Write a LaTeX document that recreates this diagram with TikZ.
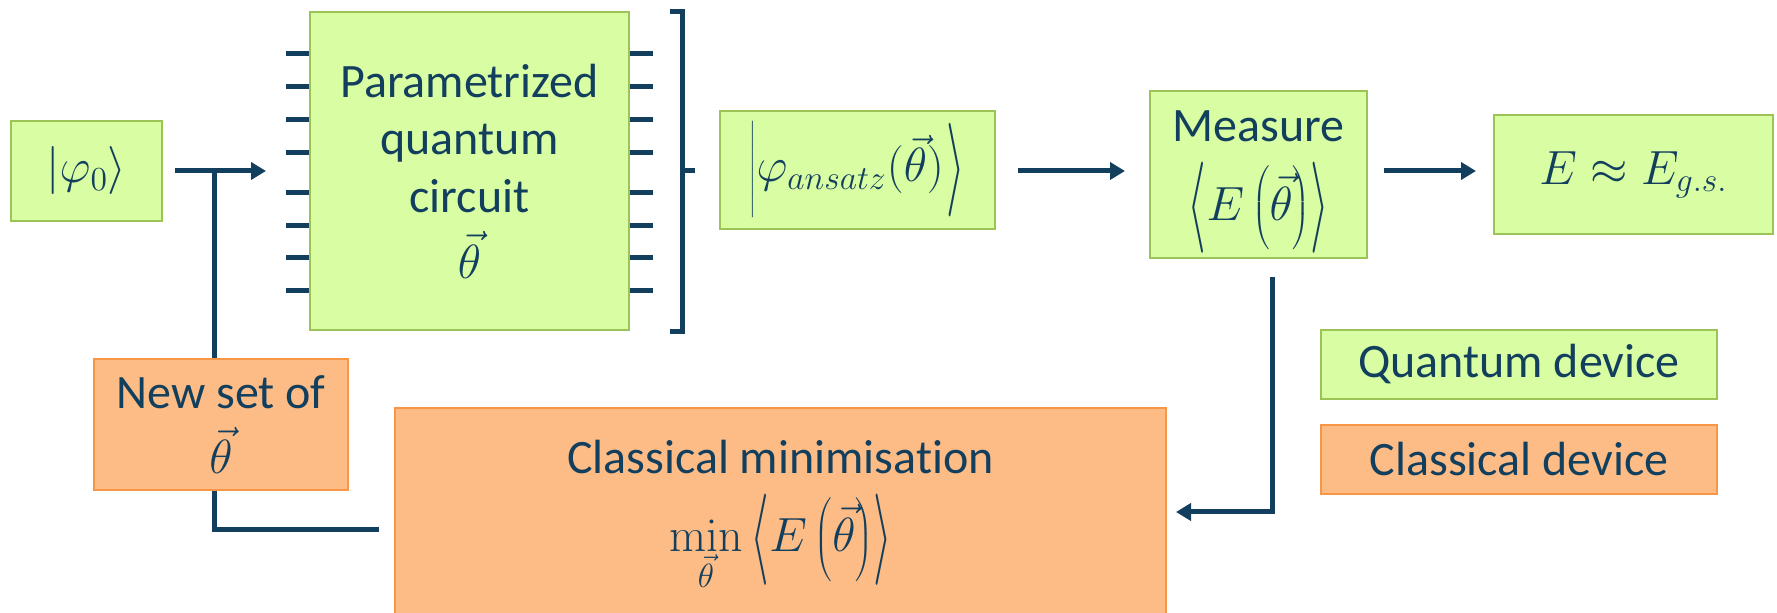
\RequirePackage{fix-cm}
\documentclass[tikz,border=0pt]{standalone}
\usepackage{graphicx}
\usepackage[no-math]{fontspec}
\setmainfont{Carlito}[Ligatures=NoCommon]
\usetikzlibrary{arrows.meta}
\definecolor{navy}{RGB}{19,63,94}
\definecolor{qfill}{RGB}{217,253,163}
\definecolor{qdraw}{RGB}{155,195,85}
\definecolor{cfill}{RGB}{253,188,133}
\definecolor{cdraw}{RGB}{247,150,70}
\newcommand\dstrut[1]{\vrule height\dimexpr 6pt+#1\relax depth\dimexpr #1-6pt\relax width 0pt}
\newcommand\tangl[1]{\mathopen{\vcenter{\hbox{\scalebox{1}[#1]{$\langle$}}}}}
\newcommand\tangr[1]{\mathclose{\vcenter{\hbox{\scalebox{1}[#1]{$\rangle$}}}}}
\begin{document}
\begin{tikzpicture}[x=0.5pt,y=-0.5pt,
  every node/.style={font=\fontsize{24}{28.8}\selectfont, text=navy, align=center, inner sep=0pt},
  qbox/.style={draw=qdraw, fill=qfill, line width=1pt, rectangle},
  cbox/.style={draw=cdraw, fill=cfill, line width=1pt, rectangle},
  conn/.style={draw=navy, line width=2.5pt},
  arr/.style={conn, -{Triangle[length=7.5pt,width=8.5pt]}},
  wire/.style={draw=navy, line width=2.5pt},
]
\useasboundingbox (0,0) rectangle (1777,613);
\clip (0,0) rectangle (1777,613);
\delimitershortfall=0pt

% nodes
\node[qbox, minimum width=75.5pt, minimum height=50pt] (phi0) at (86.5,171) {$|\varphi_0\rangle$};
\node[qbox, minimum width=159.5pt, minimum height=159pt] (pqc) at (469.5,171) {Parametrized\\quantum\\circuit\\[4pt]$\vec{\theta}$};
\node[qbox, minimum width=137.5pt, minimum height=59pt] (ans) at (857.5,170) {$\left|\dstrut{23.5pt}\varphi_{ansatz}(\vec{\theta})\right.\tangr{1.95}$};
\node[qbox, minimum width=108.5pt, minimum height=83.5pt] (meas) at (1258.5,174.5) {};
\node (meastext) at (1258.5,182) {Measure\\[9.5pt]$\tangl{1.9}E\left(\dstrut{19.5pt}\vec{\theta}\right)\tangr{1.9}$};
\node[qbox, minimum width=139.5pt, minimum height=59.5pt] (egs) at (1633.5,174.5) {$E\approx E_{g.s.}$};
\node[qbox, minimum width=198pt, minimum height=34.5pt] (qdev) at (1519,364.5) {Quantum device};
\node[cbox, minimum width=198pt, minimum height=34.5pt] (cdev) at (1519,459.5) {Classical device};
\node[cbox, minimum width=127pt, minimum height=65.5pt] (newset) at (221,424.5) {New set of\\[4pt]$\vec{\theta}$};
\node[cbox, minimum width=385.5pt, minimum height=121pt] (cmin) at (780.5,529) {};
\node (cmintext) at (780.5,515) {Classical minimisation\\[9pt]$\displaystyle\min_{\vec{\theta}}\,\tangl{1.9}E\left(\dstrut{19.5pt}\vec{\theta}\right)\tangr{1.9}$};

% circuit wires
\foreach \y in {54,87,120,153,193,226,258,291} {
  \draw[wire] (pqc.west |- 0,\y) -- ++(-23,0);
  \draw[wire] (pqc.east |- 0,\y) -- ++(23,0);
}

% bracket
\draw[conn] (670,12) -- (682,12) -- (682,332) -- (670,332);
\draw[conn] (682,171) -- (695,171);

% connectors
\coordinate (j) at (214,171);
\coordinate (fb) at (379,530);
\coordinate (md) at (1272,512);
\draw[arr] ([xshift=6pt]phi0.east) -- ([xshift=-21.5pt]pqc.west);
\draw[conn] (newset.north -| j) -- (j);
\draw[conn] (newset.south -| j) |- (fb);
\draw[arr, shorten <=11pt, shorten >=12pt] (ans.east |- j) -- (meas.west |- j);
\draw[arr, shorten <=8pt, shorten >=8.5pt] (meas.east |- j) -- (egs.west |- j);
\draw[arr, shorten <=9pt, shorten >=4.5pt] (meas.south -| md) |- (cmin.east |- md);
\end{tikzpicture}
\end{document}
